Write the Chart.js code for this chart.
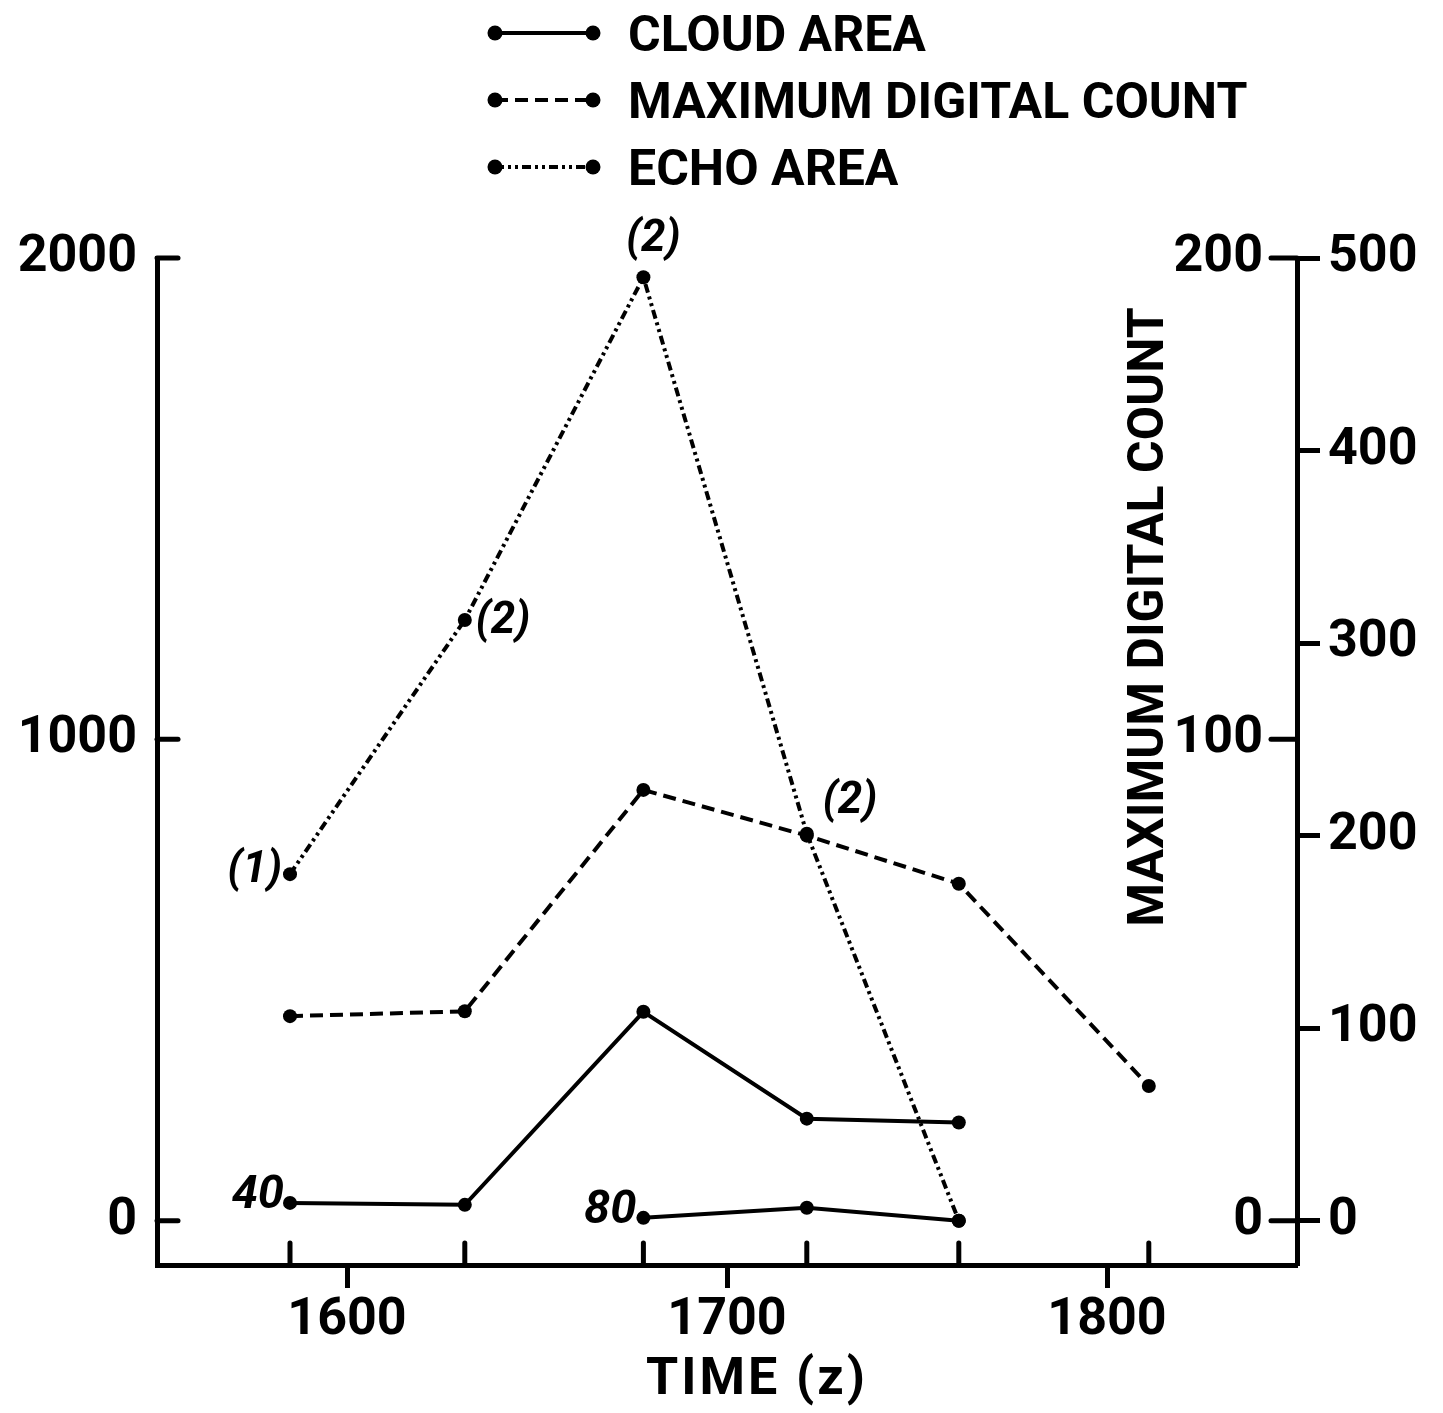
<!DOCTYPE html>
<html>
<head>
<meta charset="utf-8">
<title>Cloud area, maximum digital count and echo area</title>
<script src="https://cdn.jsdelivr.net/npm/chart.js@4.4.1/dist/chart.umd.min.js"></script>
<style>
  html, body { margin: 0; padding: 0; background: #fff; }
  #wrap { width: 1443px; height: 1413px; }
</style>
</head>
<body>
<div id="wrap"><canvas id="chart" width="1443" height="1413"></canvas></div>
<script>
// observation times (z) and the three tracked quantities
const times           = [1585, 1631, 1678, 1721, 1761, 1811];
const cloudArea40     = [37, 33, 434, 212, 204];
const cloudArea80     = [null, null, 6, 27, 0];
const maxDigitalCount = [42.5, 43.5, 89.5, 80, 70, 28];
const echoArea        = [180, 312, 490, 201, 0];
const echoLevels      = ['(1)', '(2)', '(2)', '(2)'];
const thresholds      = ['40', '80'];

const timeTicks  = [1600, 1700, 1800];
const areaTicks  = [0, 1000, 2000];
const countTicks = [0, 100, 200];
const echoTicks  = [0, 100, 200, 300, 400, 500];

const INK  = '#000';
const FONT = 'Roboto, "Liberation Sans", sans-serif';
const bold = size => ({ family: FONT, size, weight: 'bold' });

const series = vals => vals.map((v, i) => ({ x: times[i], y: v }));
const fixTicks = vals => scale => { scale.ticks = vals.map(v => ({ value: v })); };

function lineStyle(dash) {
  return {
    borderColor: INK,
    borderWidth: 4,
    borderDash: dash,
    pointRadius: 7,
    pointBackgroundColor: INK,
    pointBorderWidth: 0,
    tension: 0,
    spanGaps: false,
    clip: false
  };
}

// legend rows, tick marks that point into the plot, point notes and axis titles
const decorations = {
  id: 'decorations',
  afterDraw(chart) {
    const ctx = chart.ctx;
    const area = chart.chartArea;
    const s = chart.scales;
    ctx.save();
    ctx.strokeStyle = INK;
    ctx.fillStyle = INK;

    // inward ticks
    ctx.lineWidth = 5;
    ctx.lineCap = 'round';
    const seg = (x1, y1, x2, y2) => { ctx.beginPath(); ctx.moveTo(x1, y1); ctx.lineTo(x2, y2); ctx.stroke(); };
    areaTicks.forEach(v => { const y = s.y.getPixelForValue(v); seg(area.left, y, area.left + 21, y); });
    countTicks.forEach(v => { const y = s.yCount.getPixelForValue(v); seg(area.right - 26, y, area.right, y); });
    times.forEach(t => { const x = s.x.getPixelForValue(t); seg(x, area.bottom, x, area.bottom - 22); });

    // legend
    const seen = [];
    chart.data.datasets.forEach(ds => { if (!seen.find(d => d.label === ds.label)) seen.push(ds); });
    ctx.font = `bold 50px ${FONT}`;
    ctx.textAlign = 'left';
    ctx.textBaseline = 'alphabetic';
    seen.forEach((ds, i) => {
      const y = 33 + i * 67;
      ctx.save();
      ctx.lineWidth = ds.borderWidth;
      ctx.lineCap = 'butt';
      ctx.setLineDash(ds.borderDash || []);
      seg(495, y, 593, y);
      ctx.restore();
      [495, 593].forEach(x => { ctx.beginPath(); ctx.arc(x, y, 7.5, 0, Math.PI * 2); ctx.fill(); });
      ctx.fillText(ds.label, 628, y + 18);
    });

    // notes beside points
    ctx.font = `italic bold 44px ${FONT}`;
    ctx.textBaseline = 'middle';
    const note = (dsIndex, idx, text, dx, dy, align) => {
      const p = chart.getDatasetMeta(dsIndex).data[idx];
      ctx.textAlign = align;
      ctx.fillText(text, p.x + dx, p.y + dy);
    };
    const echoPos = [[-8, -3, 'right'], [11, 2, 'left'], [10, -37, 'center'], [16, -32, 'left']];
    echoLevels.forEach((t, i) => note(3, i, t, ...echoPos[i]));
    ctx.font = `italic bold 47px ${FONT}`;
    note(0, 0, thresholds[0], -6, -7, 'right');
    note(1, 2, thresholds[1], -7, -7, 'right');

    // time axis title
    ctx.font = `bold 52px ${FONT}`;
    ctx.textAlign = 'center';
    ctx.textBaseline = 'alphabetic';
    ctx.letterSpacing = '3px';
    ctx.fillText('TIME (z)', 757, 1394);
    ctx.letterSpacing = '0px';

    // title for the count axis, reading upward
    ctx.font = `bold 50px ${FONT}`;
    ctx.translate(1163, 617);
    ctx.rotate(-Math.PI / 2);
    ctx.fillText('MAXIMUM DIGITAL COUNT', 0, 0);
    ctx.restore();
  }
};

new Chart(document.getElementById('chart'), {
  type: 'line',
  data: {
    datasets: [
      { label: 'CLOUD AREA', data: series(cloudArea40), yAxisID: 'y', ...lineStyle([]) },
      { label: 'CLOUD AREA', data: series(cloudArea80), yAxisID: 'y', ...lineStyle([]) },
      { label: 'MAXIMUM DIGITAL COUNT', data: series(maxDigitalCount), yAxisID: 'yCount', ...lineStyle([13, 7]) },
      { label: 'ECHO AREA', data: series(echoArea), yAxisID: 'yEcho', ...lineStyle([9, 4, 3, 4, 3, 4]) }
    ]
  },
  options: {
    responsive: false,
    animation: false,
    events: [],
    layout: { padding: { top: 258, left: 0, right: 0, bottom: 0 } },
    plugins: { legend: { display: false }, tooltip: { enabled: false } },
    scales: {
      x: {
        type: 'linear', position: 'bottom', min: 1550, max: 1850,
        afterBuildTicks: fixTicks(timeTicks),
        afterFit: sc => { sc.height = 148; },
        grid: { drawOnChartArea: false, color: INK, tickLength: 23, tickWidth: 5 },
        border: { color: INK, width: 5 },
        ticks: { color: INK, font: bold(52), padding: 2, maxRotation: 0, callback: v => String(v) }
      },
      y: {
        position: 'left', min: -92, max: 2000,
        afterBuildTicks: fixTicks(areaTicks),
        afterFit: sc => { sc.width = 157; },
        grid: { display: false, drawTicks: false },
        border: { color: INK, width: 5 },
        ticks: { color: INK, font: bold(52), padding: 20, callback: v => String(v) }
      },
      yCount: {
        position: 'right', weight: 0, min: -9.2, max: 200,
        afterBuildTicks: fixTicks(countTicks),
        afterFit: sc => { sc.width = 0; },
        grid: { display: false, drawTicks: false },
        border: { display: false },
        // mirrored labels sit inside the plot, left of the right-hand axis line
        ticks: { color: INK, font: bold(52), mirror: true, padding: -34, callback: v => String(v) }
      },
      yEcho: {
        position: 'right', weight: 1, min: -23, max: 500,
        afterBuildTicks: fixTicks(echoTicks),
        afterFit: sc => { sc.width = 146; },
        grid: { drawOnChartArea: false, color: INK, tickLength: 23, tickWidth: 5 },
        border: { color: INK, width: 5 },
        ticks: { color: INK, font: bold(52), padding: 8, callback: v => String(v) }
      }
    }
  },
  plugins: [decorations]
});
</script>
</body>
</html>
